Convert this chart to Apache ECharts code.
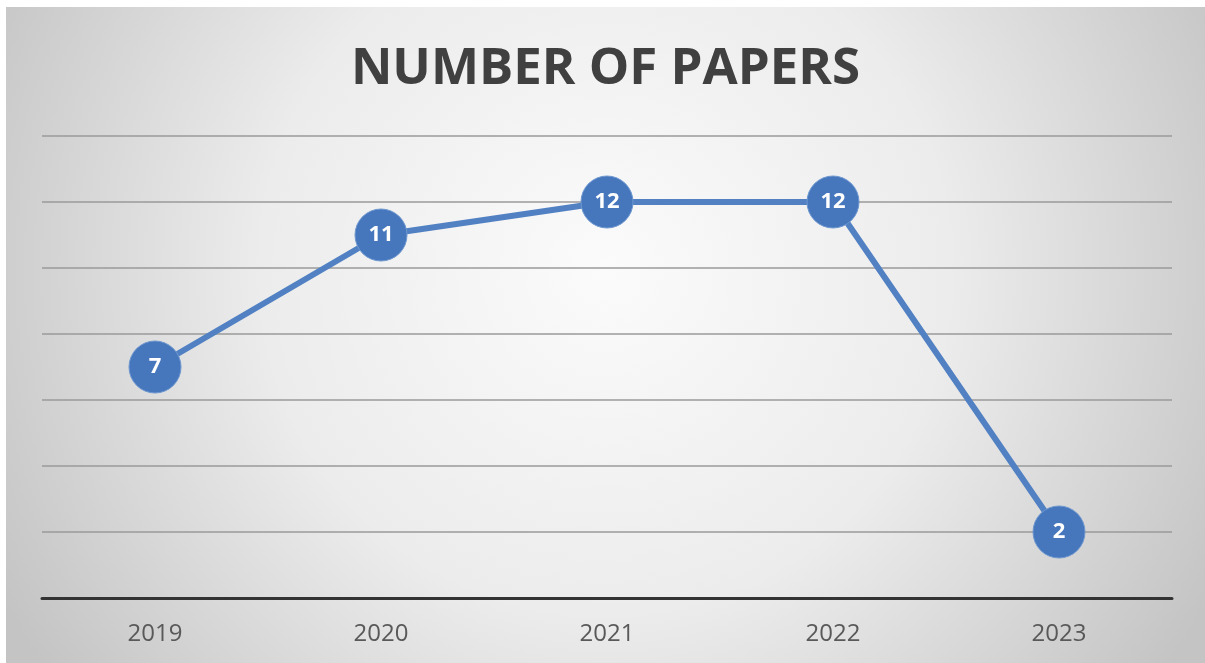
<!DOCTYPE html>
<html>
<head>
<meta charset="utf-8">
<script src="https://cdn.jsdelivr.net/npm/echarts@6/dist/echarts.min.js"></script>
<style>
html,body{margin:0;padding:0;background:#fff;}
#c{position:absolute;left:6px;top:7px;width:1199px;height:656px;}
</style>
</head>
<body>
<div id="c"></div>
<script>
const categories = ['2019', '2020', '2021', '2022', '2023'];
const papers = [7, 11, 12, 12, 2];
const yMin = 0, yMax = 14, yStep = 2;

const chart = echarts.init(document.getElementById('c'), null, {renderer: 'canvas'});
chart.setOption({
  backgroundColor: {
    type: 'radial', x: 0.5, y: 0.4, r: 1.05,
    colorStops: [
      {offset: 0, color: '#fbfbfb'},
      {offset: 0.5, color: '#ececec'},
      {offset: 1, color: '#c4c4c4'}
    ]
  },
  animation: false,
  title: {
    text: 'NUMBER OF PAPERS',
    left: 'center',
    top: 32,
    textStyle: {fontFamily: 'Open Sans', fontWeight: 'bold', fontSize: 51, color: '#404040'}
  },
  grid: {left: 36, right: 33, top: 129, bottom: 65, containLabel: false},
  xAxis: {
    type: 'category',
    data: categories,
    boundaryGap: true,
    axisLine: {lineStyle: {color: '#333333', width: 3}},
    axisTick: {show: false},
    axisLabel: {color: '#595959', fontSize: 24, fontFamily: 'Open Sans', margin: 24}
  },
  yAxis: {
    type: 'value',
    min: yMin, max: yMax, interval: yStep,
    axisLabel: {show: false},
    axisLine: {show: false},
    axisTick: {show: false},
    splitLine: {lineStyle: {color: '#9a9a9a', width: 1.5}}
  },
  series: [{
    type: 'line',
    data: papers,
    symbol: 'circle',
    symbolSize: 52,
    lineStyle: {color: '#5181c3', width: 6},
    itemStyle: {color: '#4677bd', borderColor: '#6f98d0', borderWidth: 1},
    label: {
      show: true, position: 'inside',
      color: '#ffffff', fontWeight: 'bold', fontSize: 22, fontFamily: 'Open Sans'
    }
  }]
});
</script>
</body>
</html>
